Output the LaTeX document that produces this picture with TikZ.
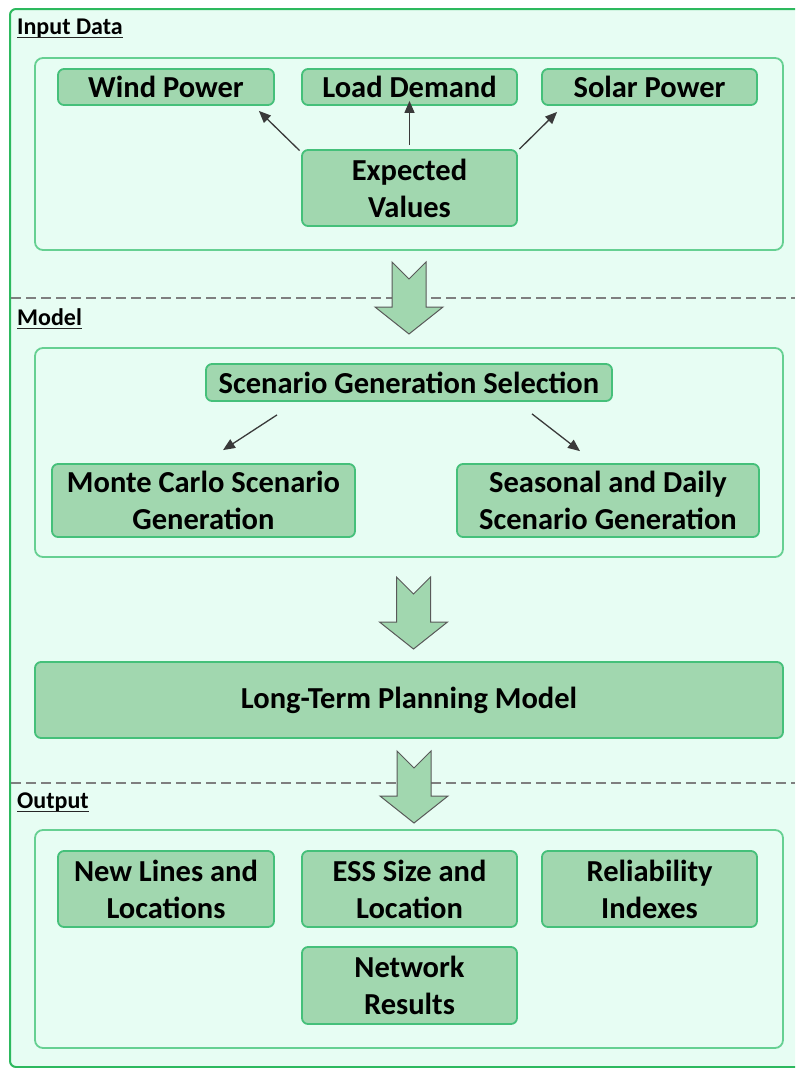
\documentclass[tikz,border=0pt]{standalone}
\usepackage{fontspec}
\setmainfont{Carlito}
\usetikzlibrary{arrows.meta}

\definecolor{mint}{HTML}{E7FDF3}
\definecolor{framegreen}{HTML}{2DB95E}
\definecolor{panelgreen}{HTML}{66D092}
\definecolor{boxfill}{HTML}{A1D7AF}
\definecolor{boxline}{HTML}{45C07A}
\definecolor{dashgray}{HTML}{7F7F7F}
\definecolor{linkgray}{HTML}{3A3A3A}

\tikzset{
  panelbox/.style={draw=panelgreen, line width=1.8pt, rounded corners=8pt, fill=mint},
  greenbox/.style={draw=boxline, line width=1.8pt, rounded corners=6pt, fill=boxfill,
    inner sep=0pt, align=center, text=black,
    font=\fontsize{30.5}{37}\selectfont\bfseries},
  secthead/.style={font=\fontsize{24}{28}\selectfont\bfseries, anchor=base west, inner sep=0pt},
  headrule/.style={line width=1.8pt, black!85},
  link/.style={draw=linkgray, line width=1.3pt, -{Triangle[length=12pt,width=10pt]}},
  divider/.style={dashgray, line width=2.5pt, dash pattern=on 10pt off 5pt},
  bigarrow/.style={fill=boxfill, draw=black!65, line width=1pt, line join=miter},
}

% hollow-tailed block arrow pointing down: centre x, top y
\newcommand\downblock[2]{%
  \path[bigarrow] (#1-17,#2) -- (#1,#2+17) -- (#1+17,#2) -- (#1+17,#2+45)
    -- (#1+34,#2+45) -- (#1,#2+72) -- (#1-34,#2+45) -- (#1-17,#2+45) -- cycle;}

\begin{document}
\begin{tikzpicture}[x=1pt,y=-1pt]
\useasboundingbox (0,0) rectangle (795,1068);
\fill[white] (0,0) rectangle (795,1068);
\clip (0,0) rectangle (795,1068);

% outer frame
\draw[framegreen, line width=2pt, rounded corners=6pt, fill=mint] (10,9) rectangle (812,1067);

% section dividers
\draw[divider] (11,298) -- (795,298);
\draw[divider] (11,783) -- (795,783);

% section headings
\node[secthead] (hin) at (17,34) {Input Data};
\draw[headrule] ([yshift=-3.5pt]hin.base west) -- ([yshift=-3.5pt]hin.base east);
\node[secthead] (hmo) at (17,325) {Model};
\draw[headrule] ([yshift=-3.5pt]hmo.base west) -- ([yshift=-3.5pt]hmo.base east);
\node[secthead] (hout) at (17,808) {Output};
\draw[headrule] ([yshift=-3.5pt]hout.base west) -- ([yshift=-3.5pt]hout.base east);

% panels
\draw[panelbox] (35,58) rectangle (783,250);
\draw[panelbox] (35,348) rectangle (783,557);
\draw[panelbox] (35,830) rectangle (783,1048);

% input data
\node[greenbox, minimum width=216pt, minimum height=36pt] (wp) at (166,87) {Wind Power};
\node[greenbox, minimum width=215pt, minimum height=36pt] (ld) at (409.5,87) {Load Demand};
\node[greenbox, minimum width=215pt, minimum height=36pt] (sp) at (649.5,87) {Solar Power};
\node[greenbox, minimum width=215pt, minimum height=76pt] (ev) at (409.5,188) {Expected\\Values};

\draw[link] ([shift={(-1.5,1.5)}]ev.north west) -- ([shift={(-16,5)}]wp.south east);
\draw[link] ([yshift=4pt]ev.north) -- ([yshift=5pt]ld.south);
\draw[link] ([shift={(1.5,0)}]ev.north east) -- ([shift={(16,6)}]sp.south west);

\downblock{409}{262}

% model
\node[greenbox, minimum width=406pt, minimum height=37pt] (sgs) at (409,382.5) {Scenario Generation Selection};
\node[greenbox, minimum width=303pt, minimum height=73pt] (mc) at (203.5,500.5) {Monte Carlo Scenario\\Generation};
\node[greenbox, minimum width=302pt, minimum height=73pt] (sd) at (608,500.5) {Seasonal and Daily\\Scenario Generation};

\draw[link] ([shift={(-132,13)}]sgs.south) -- ([shift={(19.5,-13)}]mc.north);
\draw[link] ([shift={(123,12)}]sgs.south) -- ([shift={(-28,-12)}]sd.north);

\downblock{413.5}{577}

\node[greenbox, minimum width=748pt, minimum height=76pt] (ltp) at (409,700) {Long-Term Planning Model};

\downblock{414}{751}

% output
\node[greenbox, minimum width=216pt, minimum height=76pt] (nl) at (166,889) {New Lines and\\Locations};
\node[greenbox, minimum width=215pt, minimum height=76pt] (ess) at (409.5,889) {ESS Size and\\Location};
\node[greenbox, minimum width=215pt, minimum height=76pt] (ri) at (649.5,889) {Reliability\\Indexes};
\node[greenbox, minimum width=215pt, minimum height=77pt] (nr) at (409.5,985.5) {Network\\Results};
\end{tikzpicture}
\end{document}
